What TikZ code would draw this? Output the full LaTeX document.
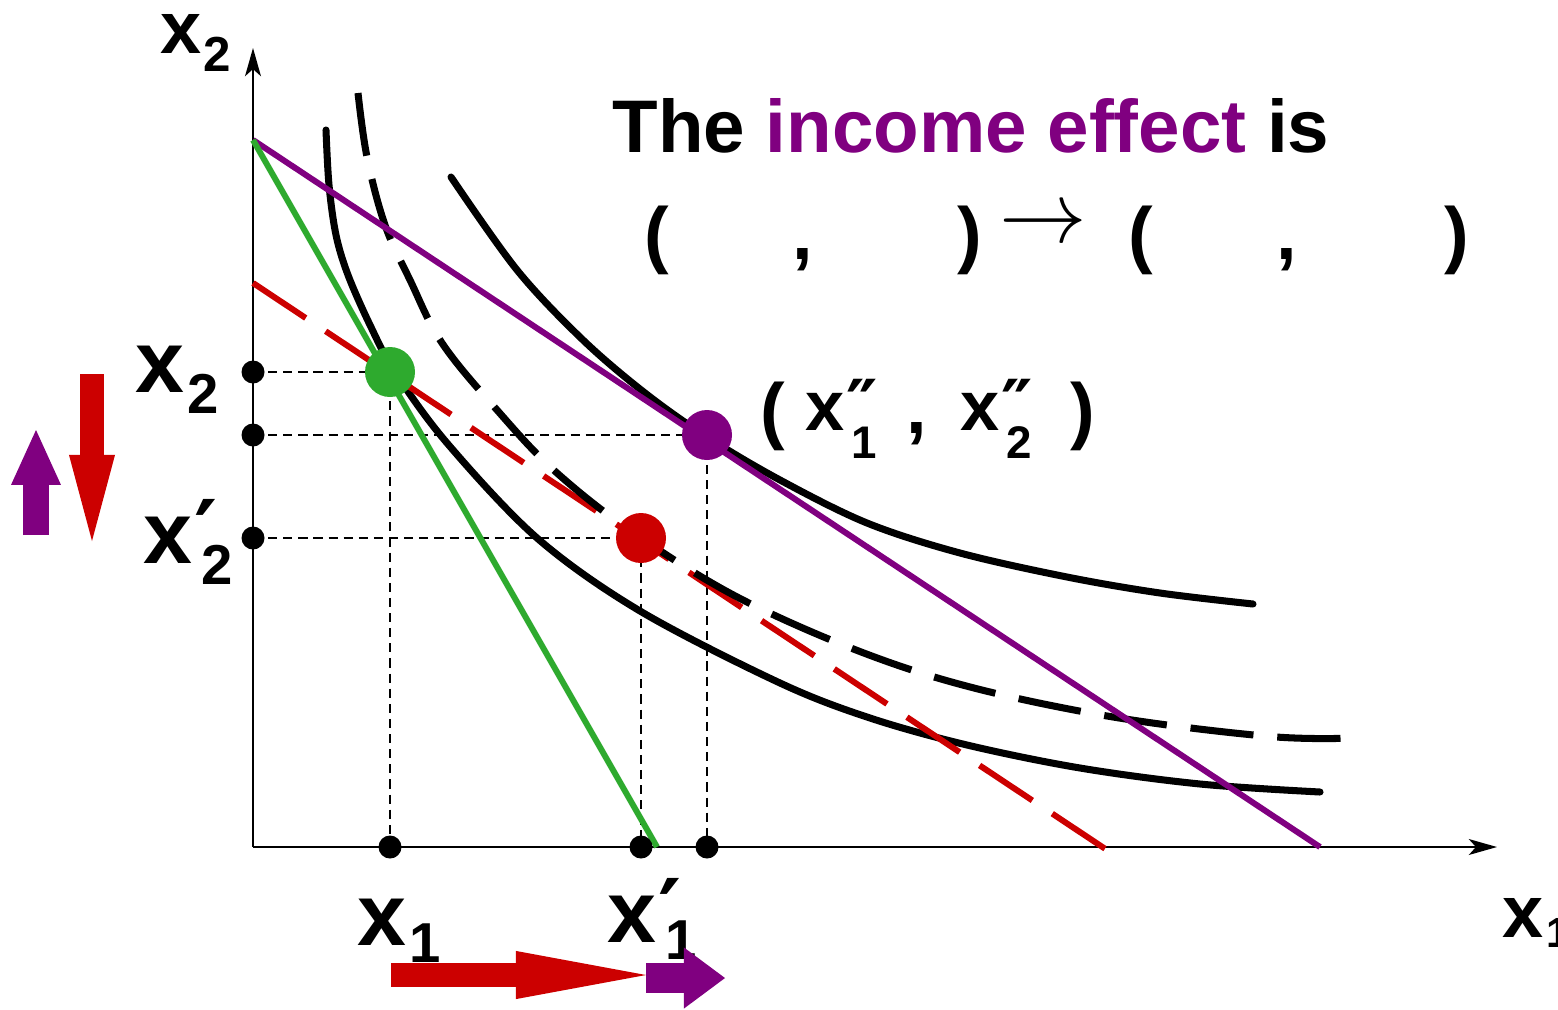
\documentclass[tikz,border=0pt]{standalone}
\usepackage{fontspec}
\setmainfont{Liberation Sans}
\newfontfamily\dvfont{DejaVu Sans}
\usetikzlibrary{arrows.meta}
\definecolor{incpurple}{HTML}{800080}
\definecolor{subred}{HTML}{CC0000}
\definecolor{budgreen}{HTML}{2EAA2E}
% x with subscript: #1 sub size, #2 drop, #3 sub
\newcommand{\xs}[3]{x\kern0.03em\raisebox{-#2}{\fontsize{#1}{#1}\selectfont #3}}
% x with subscript and prime mark #4
\newcommand{\xp}[4]{x\rlap{\kern0.02em{\dvfont #4}}\kern0.1em\raisebox{-#2}{\fontsize{#1}{#1}\selectfont #3}}

\begin{document}
\begin{tikzpicture}[x=0.01cm, y=-0.01cm,
  axis/.style={line width=0.7pt, -{Stealth[length=8pt, width=4.5pt, inset=2pt]}},
  guide/.style={line width=0.55pt, dash pattern=on 2.6pt off 1.7pt},
  indiff/.style={line width=2pt, line cap=round},
  longdash/.style={line cap=butt, dash pattern=on 18pt off 6.8pt},
  budget/.style={line width=1.7pt},
  blk/.style={-{Triangle[line width=0pt, #1]}},
  lab/.style={anchor=base west, inner sep=0pt, font=\bfseries\fontsize{25}{25}\selectfont},
  smalllab/.style={lab, font=\bfseries\fontsize{21}{21}\selectfont},
  ptlab/.style={lab, font=\bfseries\fontsize{20}{20}\selectfont},
  sym/.style={anchor=base, inner sep=0pt, font=\bfseries\fontsize{21}{21}\selectfont}]
  \useasboundingbox (0,0) rectangle (1558,1009);

  % points
  \coordinate (O) at (253,847);
  \coordinate (A) at (390,372);  % original choice
  \coordinate (B) at (641,538);  % after the substitution effect
  \coordinate (C) at (707,435);  % final choice
  \coordinate (Ax) at (A |- O); \coordinate (Ay) at (A -| O);
  \coordinate (Bx) at (B |- O); \coordinate (By) at (B -| O);
  \coordinate (Cx) at (C |- O); \coordinate (Cy) at (C -| O);
  \coordinate (G0) at (253,140); \coordinate (G1) at (657,847);
  \coordinate (P1) at (1320,847);
  \coordinate (R0) at (253,283); \coordinate (R1) at (1107,850);

  % axes
  \draw[axis] (O) -- (253,48);
  \draw[axis] (O) -- (1497,847);
  \node[smalllab] (ylab) at (160,53) {\xs{14}{5.4pt}{2}};
  \node[smalllab] (xlab) at (1502,937) {\xs{12}{3pt}{1}};

  % guide lines
  \foreach \p in {A,B,C}
    \draw[guide] (\p y) -- (\p) -- (\p x);

  % indifference curves and budget lines
  \draw[indiff] plot[smooth, tension=0.55] coordinates {(326,130) (329,185) (336,235)
    (348,275) (370,325) (395,372) (447,443) (537,538) (640,611) (780,683)
    (870,718) (967,745) (1080,768) (1200,784) (1320,792)};
  \draw[budget, subred, longdash] (R0) -- (R1);
  \draw[indiff, longdash] plot[smooth, tension=0.6] coordinates {(358,93) (367,157)
    (385,225) (410,280) (442,343) (497,410) (557,473) (641,538) (757,607) (918,672)
    (1090,713) (1264,736) (1353,738)};
  \draw[indiff] plot[smooth, tension=0.55] coordinates {(451,177) (517,270) (583,340)
    (645,393) (707,437) (780,480) (867,523) (960,553) (1067,577) (1160,593) (1253,604)};
  \draw[budget, incpurple] (G0) -- (P1);
  \draw[budget, budgreen] (G0) -- (G1);

  % dots
  \foreach \p in {Ax,Ay,Bx,By,Cx,Cy}
    \fill (\p) circle (11.5);
  \fill[budgreen] (A) circle (25);
  \fill[subred] (B) circle (25);
  \fill[incpurple] (C) circle (25);

  % axis labels
  \node[lab] (a2) at (135,392) {\xs{16}{6pt}{2}};
  \node[lab] (b2) at (143,563) {\xp{16}{6pt}{2}{′}};
  \node[lab] (a1) at (357,945) {\xs{16}{5pt}{1}};
  \node[lab] (b1) at (607,942) {\xp{16}{5pt}{1}{′}};

  % label of the final choice
  \node[sym] (cl) at (773,435) {(};
  \node[ptlab] (c1) at (805,430) {\xp{13}{8pt}{1}{″}};
  \node[sym] (cc) at (917,433) {,};
  \node[ptlab] (c2) at (960,430) {\xp{13}{8pt}{2}{″}};
  \node[sym] (cr) at (1083,435) {)};

  % title
  \node[anchor=base west, inner sep=0pt, font=\bfseries\fontsize{21.2}{24}\selectfont]
    (title) at (612,152) {The \textcolor{incpurple}{income effect} is};
  \foreach \n/\x/\t in {p1/657/(, k1/803/{,}, q1/970/), p2/1141/(, k2/1287/{,}, q2/1457/)}
    \node[sym] (\n) at (\x,259) {\t};
  \node[anchor=base, inner sep=0pt, font=\fontsize{24}{24}\selectfont] (to) at (1043,242) {$\rightarrow$};

  % direction arrows
  \draw[incpurple, line width=7.4pt, blk={length=15.6pt, width=14.2pt}] (36,535) -- (36,430);
  \draw[subred, line width=6.8pt, blk={length=24.5pt, width=13.1pt}] (92,374) -- (92,541);
  \draw[subred, line width=6.8pt, blk={length=37pt, width=13.7pt}] (391,975) -- (646,975);
  \draw[incpurple, line width=8.8pt, blk={length=11.7pt, width=17.4pt}] (646,978) -- (725,978);
\end{tikzpicture}
\end{document}
